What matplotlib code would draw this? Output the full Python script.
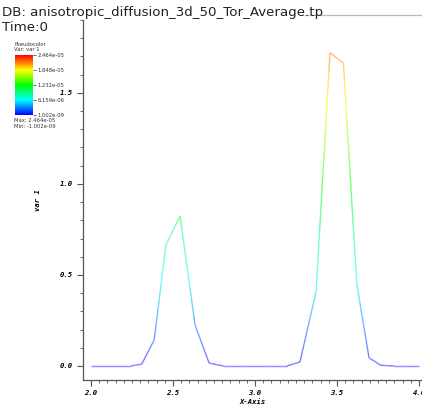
import numpy as np
import matplotlib
matplotlib.use("Agg")
import matplotlib.pyplot as plt
from matplotlib.collections import LineCollection
from matplotlib.colors import LinearSegmentedColormap, Normalize
from matplotlib.ticker import MultipleLocator, FormatStrFormatter
from matplotlib.lines import Line2D
from matplotlib.font_manager import FontProperties

# lineout values
x_pos = [2.0, 2.08, 2.16, 2.244, 2.309, 2.385, 2.457, 2.543, 2.634, 2.72,
         2.807, 2.88, 2.96, 3.04, 3.12, 3.193, 3.274, 3.372, 3.457, 3.539,
         3.62, 3.695, 3.766, 3.85, 3.92, 4.0]
var1 = [0.0, 0.0, 0.0, 0.0, 0.01, 0.143, 0.665, 0.824, 0.225, 0.016,
        0.0, 0.0, 0.0, 0.0, 0.0, 0.0, 0.022, 0.408, 1.72, 1.663,
        0.454, 0.045, 0.004, 0.0, 0.0, 0.0]

cbar_ticks = [1.002e-09, 6.159e-06, 1.232e-05, 1.848e-05, 2.464e-05]
cbar_labels = ["1.002e-09", "6.159e-06", "1.232e-05", "1.848e-05", "2.464e-05"]
title_text = "DB: anisotropic_diffusion_3d_50_Tor_Average.tp"
time_text = "Time:0"

W, H = 422, 408
fig = plt.figure(figsize=(W / 100, H / 100), dpi=100)

# VisIt style "hot" table: blue, cyan, green, yellow, red
hot = LinearSegmentedColormap.from_list(
    "visit_hot", [(0, 0, 1), (0, 1, 1), (0, 1, 0), (1, 1, 0), (1, 0, 0)])


def px(x0, y0, x1, y1):
    return [x0 / W, 1 - y1 / H, (x1 - x0) / W, (y1 - y0) / H]


ax = fig.add_axes(px(83, 20, 422, 380))
ax.set_xlim(1.951, 4.018)
ax.set_ylim(-0.077, 1.9)

# line coloured by value, lightened a bit like the reference
xs = np.array(x_pos)
ys = np.array(var1)
# split segments finely so colour follows the value along each segment
fx, fy = [], []
for i in range(len(xs) - 1):
    t = np.linspace(0, 1, 12, endpoint=False)
    fx.extend(xs[i] + (xs[i + 1] - xs[i]) * t)
    fy.extend(ys[i] + (ys[i + 1] - ys[i]) * t)
fx.append(xs[-1])
fy.append(ys[-1])
fx = np.array(fx)
fy = np.array(fy)
pts = np.column_stack([fx, fy]).reshape(-1, 1, 2)
segs = np.concatenate([pts[:-1], pts[1:]], axis=1)
mid = (fy[:-1] + fy[1:]) / 2
norm = Normalize(0, 1.95)
cols = hot(norm(mid))
cols[:, :3] = cols[:, :3] * 0.55 + 0.45
lc = LineCollection(segs, colors=cols, linewidths=1.0)
ax.add_collection(lc)

for s in ["top", "right"]:
    ax.spines[s].set_visible(False)
for s in ["left", "bottom"]:
    ax.spines[s].set_color("#555555")
    ax.spines[s].set_linewidth(0.9)

ax.xaxis.set_major_locator(MultipleLocator(0.5))
ax.xaxis.set_minor_locator(MultipleLocator(0.05))
ax.yaxis.set_major_locator(MultipleLocator(0.5))
ax.yaxis.set_minor_locator(MultipleLocator(0.1))
ax.xaxis.set_major_formatter(FormatStrFormatter("%.1f"))
ax.yaxis.set_major_formatter(FormatStrFormatter("%.1f"))
ax.tick_params(which="major", direction="out", length=4, width=0.8,
               color="#555555", pad=3)
ax.tick_params(which="minor", direction="out", length=2.5, width=0.6,
               color="#555555")
tick_font = dict(family="DejaVu Sans Mono", weight="bold", style="italic",
                 size=5.2)
for lab in ax.get_xticklabels() + ax.get_yticklabels():
    lab.set_fontproperties(FontProperties(**tick_font))
ax.set_xlabel("X-Axis", fontproperties=FontProperties(**tick_font), labelpad=2)
ax.set_ylabel("var 1", fontproperties=FontProperties(**tick_font), labelpad=14)

# top gray line of the viewport
fig.add_artist(Line2D([305 / W, 1.0], [1 - 15 / H, 1 - 15 / H],
                      color="#bbbbbb", lw=0.9))

fig.text(2 / W, 1 - 16 / H, title_text, fontsize=9.6, color="#222222",
         family="DejaVu Sans", va="baseline")
fig.text(2 / W, 1 - 31 / H, time_text, fontsize=9.6, color="#222222",
         family="DejaVu Sans", va="baseline")

# legend block
fig.text(14 / W, 1 - 46 / H, "Pseudocolor", fontsize=3.8, color="#333333",
         va="baseline")
fig.text(14 / W, 1 - 51 / H, "Var: var 1", fontsize=3.8, color="#333333",
         va="baseline")
cax = fig.add_axes(px(15, 55, 33, 115))
grad = np.linspace(0, 1, 256).reshape(-1, 1)
cax.imshow(grad, aspect="auto", cmap=hot, origin="lower",
           extent=[0, 1, cbar_ticks[0], cbar_ticks[-1]])
cax.set_xticks([])
cax.yaxis.tick_right()
cax.set_yticks(cbar_ticks)
cax.set_yticklabels(cbar_labels)
cax.tick_params(axis="y", length=2, width=0.5, pad=1, labelsize=3.8,
                colors="#333333")
for s in cax.spines.values():
    s.set_visible(False)
fig.text(14 / W, 1 - 122.5 / H, "Max: 2.464e-05", fontsize=3.8, color="#333333",
         va="baseline")
fig.text(14 / W, 1 - 128.5 / H, "Min: -1.002e-09", fontsize=3.8, color="#333333",
         va="baseline")

fig.savefig("out.png", dpi=100)
